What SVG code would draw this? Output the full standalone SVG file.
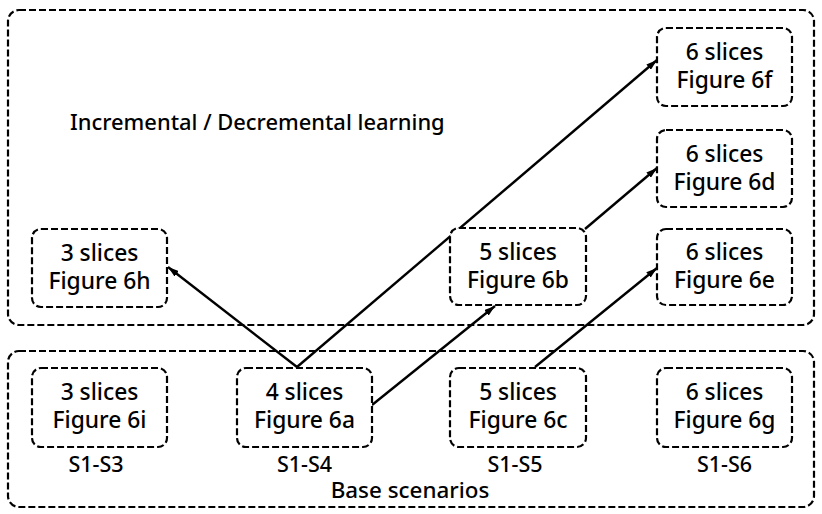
<svg xmlns="http://www.w3.org/2000/svg" width="822" height="514" viewBox="0 0 822 514">
<defs>
<marker id="arr" viewBox="0 0 11 7" refX="11" refY="3.5" markerWidth="11" markerHeight="7" markerUnits="userSpaceOnUse" orient="auto">
<path d="M0,0 L11,3.5 L0,7 z" fill="#000"/>
</marker>
<style>
.grp{fill:none;stroke:#000;stroke-width:2.2;stroke-dasharray:7 3}
.box{fill:#fff;stroke:#000;stroke-width:2.2;stroke-dasharray:7 3}
text{font-family:"Noto Sans",Lato,"Liberation Sans",sans-serif;fill:#000;font-weight:500}
.t{font-size:22.8px;text-anchor:middle}
.lbl{font-size:21.5px;text-anchor:middle}
.edge{stroke:#000;stroke-width:2.4;fill:none;marker-end:url(#arr)}
</style>
</defs>
<rect width="822" height="514" fill="#fff"/>
<g id="incremental">
<rect class="grp" x="8" y="10" width="806" height="315" rx="11"/>
<text x="70" y="130" style="font-size:21.9px">Incremental / Decremental learning</text>
</g>
<g id="base">
<rect class="grp" x="8" y="351" width="806" height="156" rx="11"/>
<text class="lbl" x="410" y="498" style="font-size:22.4px">Base scenarios</text>
</g>
<g id="edges">
<line class="edge" x1="297" y1="367" x2="168" y2="267"/>
<line class="edge" x1="297" y1="367" x2="657" y2="60"/>
<line class="edge" x1="372" y1="405" x2="495" y2="306"/>
<line class="edge" x1="585" y1="229" x2="657" y2="168"/>
<line class="edge" x1="535" y1="367" x2="657" y2="268"/>
</g>
<g id="n6h">
<rect class="box" x="32" y="229" width="135" height="78" rx="9"/>
<text class="t" x="99.5" y="261">3 slices</text>
<text class="t" x="99.5" y="289">Figure 6h</text>
</g>
<g id="n6b">
<rect class="box" x="450" y="228" width="136" height="77" rx="9"/>
<text class="t" x="518" y="260">5 slices</text>
<text class="t" x="518" y="288">Figure 6b</text>
</g>
<g id="n6f">
<rect class="box" x="657" y="28" width="135" height="78" rx="9"/>
<text class="t" x="724.5" y="60">6 slices</text>
<text class="t" x="724.5" y="88">Figure 6f</text>
</g>
<g id="n6d">
<rect class="box" x="657" y="130" width="135" height="77" rx="9"/>
<text class="t" x="724.5" y="162">6 slices</text>
<text class="t" x="724.5" y="190">Figure 6d</text>
</g>
<g id="n6e">
<rect class="box" x="657" y="229" width="135" height="76" rx="9"/>
<text class="t" x="724.5" y="260">6 slices</text>
<text class="t" x="724.5" y="288">Figure 6e</text>
</g>
<g id="n6i">
<rect class="box" x="32" y="368" width="135" height="79" rx="9"/>
<text class="t" x="99.5" y="400">3 slices</text>
<text class="t" x="99.5" y="428">Figure 6i</text>
<text class="lbl" x="96" y="472">S1-S3</text>
</g>
<g id="n6a">
<rect class="box" x="237" y="368" width="135" height="79" rx="9"/>
<text class="t" x="304.5" y="400">4 slices</text>
<text class="t" x="304.5" y="428">Figure 6a</text>
<text class="lbl" x="304.5" y="472">S1-S4</text>
</g>
<g id="n6c">
<rect class="box" x="450" y="368" width="136" height="79" rx="9"/>
<text class="t" x="518" y="400">5 slices</text>
<text class="t" x="518" y="428">Figure 6c</text>
<text class="lbl" x="515" y="472">S1-S5</text>
</g>
<g id="n6g">
<rect class="box" x="657" y="368" width="135" height="79" rx="9"/>
<text class="t" x="724.5" y="400">6 slices</text>
<text class="t" x="724.5" y="428">Figure 6g</text>
<text class="lbl" x="724.5" y="472">S1-S6</text>
</g>
</svg>
